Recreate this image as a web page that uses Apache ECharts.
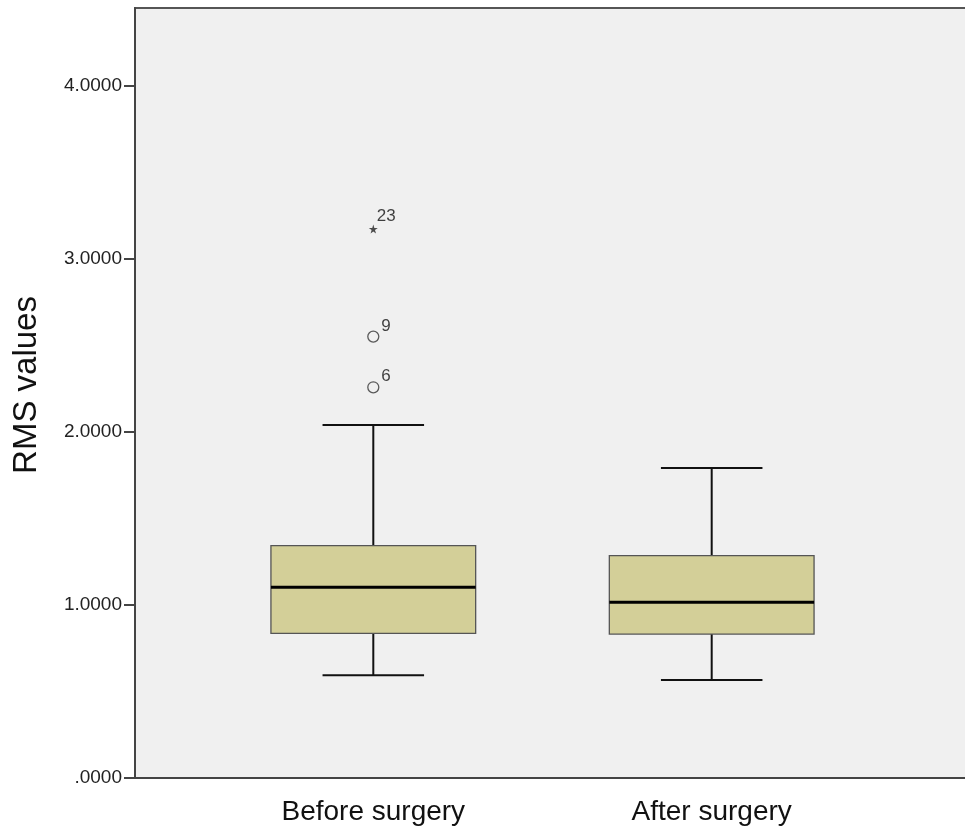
<!DOCTYPE html>
<html>
<head>
<meta charset="utf-8">
<script src="https://cdn.jsdelivr.net/npm/echarts@6/dist/echarts.min.js"></script>
<style>
html,body{margin:0;padding:0;background:#fff;}
#chart{width:965px;height:834px;}
</style>
</head>
<body>
<div id="chart"></div>
<script>
// ---- data ----
const categories = ['Before surgery', 'After surgery'];
const lowWhisker = [0.594, 0.566];
const q1 = [0.836, 0.832];
const median = [1.102, 1.016];
const q3 = [1.343, 1.285];
const highWhisker = [2.040, 1.792];
const outlierCategory = [0, 0];
const outlierValues = [2.258, 2.551];
const outlierLabels = ['6', '9'];
const extremeCategory = [0];
const extremeValues = [3.173];
const extremeLabels = ['23'];
const yTickValues = [0, 1, 2, 3, 4];
const yTickLabels = ['.0000', '1.0000', '2.0000', '3.0000', '4.0000'];

// ---- build ----
const boxData = categories.map((c, i) => [i + 1, lowWhisker[i], q1[i], median[i], q3[i], highWhisker[i]]);
const outData = outlierValues.map((v, i) => [outlierCategory[i] + 1, v, outlierLabels[i]]);
const extData = extremeValues.map((v, i) => [extremeCategory[i] + 1, v, extremeLabels[i]]);

const chart = echarts.init(document.getElementById('chart'), null, {renderer: 'canvas'});

function renderBox(params, api) {
  const x = api.value(0);
  const lo = api.coord([x, api.value(1)]);
  const b1 = api.coord([x, api.value(2)]);
  const md = api.coord([x, api.value(3)]);
  const b3 = api.coord([x, api.value(4)]);
  const hi = api.coord([x, api.value(5)]);
  const w = api.size([0.605, 0])[0];
  const cw = api.size([0.3, 0])[0];
  const cx = lo[0];
  const whisk = {stroke: '#111', lineWidth: 2};
  return {
    type: 'group',
    children: [
      {type: 'line', shape: {x1: cx, y1: lo[1], x2: cx, y2: b1[1]}, style: whisk},
      {type: 'line', shape: {x1: cx, y1: b3[1], x2: cx, y2: hi[1]}, style: whisk},
      {type: 'line', shape: {x1: cx - cw / 2, y1: lo[1], x2: cx + cw / 2, y2: lo[1]}, style: whisk},
      {type: 'line', shape: {x1: cx - cw / 2, y1: hi[1], x2: cx + cw / 2, y2: hi[1]}, style: whisk},
      {type: 'rect', shape: {x: cx - w / 2, y: b3[1], width: w, height: b1[1] - b3[1]},
        style: {fill: '#d3cf98', stroke: '#555', lineWidth: 1.3}},
      {type: 'line', shape: {x1: cx - w / 2, y1: md[1], x2: cx + w / 2, y2: md[1]},
        style: {stroke: '#000', lineWidth: 3}}
    ]
  };
}

const option = {
  backgroundColor: '#fff',
  animation: false,
  grid: {
    left: 135, top: 8, width: 831, height: 770,
    outerBoundsMode: 'none', containLabel: false,
    show: true, backgroundColor: '#f0f0f0', borderColor: '#555', borderWidth: 2
  },
  xAxis: {
    type: 'value', min: 0.2958, max: 2.7515,
    splitLine: {show: false},
    axisLine: {show: true, lineStyle: {color: '#444', width: 2}},
    axisTick: {show: false},
    axisLabel: {
      customValues: [1, 2],
      formatter: v => categories[Math.round(v) - 1] || '',
      fontFamily: 'Liberation Sans', fontSize: 28, color: '#111', margin: 20
    }
  },
  yAxis: {
    type: 'value', min: 0, max: 4.45, interval: 1,
    name: 'RMS values', nameLocation: 'middle', nameGap: 92,
    nameTextStyle: {fontFamily: 'Liberation Sans', fontSize: 33, color: '#111', padding: [0, 0, 0, 16]},
    splitLine: {show: false},
    axisLine: {show: true, lineStyle: {color: '#444', width: 2}},
    axisTick: {show: true, inside: false, length: 11, customValues: yTickValues, lineStyle: {color: '#444', width: 2}},
    axisLabel: {
      customValues: yTickValues,
      formatter: v => yTickLabels[yTickValues.indexOf(Math.round(v))],
      fontFamily: 'Liberation Sans', fontSize: 19, color: '#222', margin: 13
    }
  },
  series: [
    {type: 'custom', renderItem: renderBox, data: boxData, encode: {x: 0, y: [1, 2, 3, 4, 5]}, z: 2},
    {
      type: 'scatter', data: outData, symbol: 'circle', symbolSize: 11,
      itemStyle: {color: 'transparent', borderColor: '#333', borderWidth: 1.3},
      label: {show: true, formatter: p => p.value[2], position: [14, -13], align: 'left',
        fontFamily: 'Liberation Sans', fontSize: 17, color: '#111'},
      z: 3
    },
    {
      type: 'scatter', data: extData,
      symbol: 'path://M50,0 L61,35 L98,35 L68,57 L79,91 L50,70 L21,91 L32,57 L2,35 L39,35 Z',
      symbolSize: 9,
      itemStyle: {color: '#222'},
      label: {show: true, formatter: p => p.value[2], position: [8, -17], align: 'left',
        fontFamily: 'Liberation Sans', fontSize: 17, color: '#111'},
      z: 3
    }
  ]
};
chart.setOption(option);
</script>
</body>
</html>
